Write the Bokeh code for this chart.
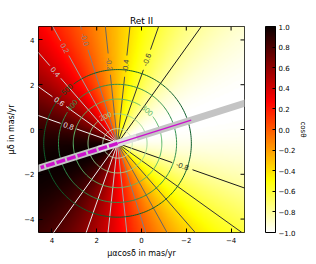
import numpy as np
from bokeh.plotting import figure
from bokeh.models import (Range1d, LinearColorMapper, ColorBar, FixedTicker,
                          ColumnDataSource, LinearAxis)
from bokeh.embed import file_html
from bokeh.resources import INLINE

# ---------------- data ----------------
TITLE = "Ret II"
X_LABEL = "μαcosδ in mas/yr"
Y_LABEL = "μδ in mas/yr"
CBAR_LABEL = "cosθ"

x_lim = [4.6, -4.6]
y_lim = [-4.6, 4.6]
axis_ticks = [-4, -2, 0, 2, 4]
cbar_ticks = [-1.0, -0.8, -0.6, -0.4, -0.2, 0.0, 0.2, 0.4, 0.6, 0.8, 1.0]

center_pm = [1.07, -0.62]      # mas/yr, point where all directions meet
axis_angle_deg = -17.5         # direction (data frame) where cos(theta) = 1
distance_kpc = 32.0            # converts speeds to proper-motion radii

speed_levels = [100, 200, 300, 400, 500]          # km/s
speed_colors = ["#c2e6bb", "#98d594", "#5db96b", "#2f8f4c", "#0f5e2b"]
speed_label_levels = [200, 300, 400, 500]
speed_label_angle_deg = [66, 132, 40, 47]
speed_label_colors = ["#98d594", "#5db96b", "#2f8f4c", "#0f4a22"]

cos_levels = [-0.8, -0.6, -0.4, -0.2, 0.0, 0.2, 0.4, 0.6, 0.8]
cos_colors = ["#1a1a1a", "#333333", "#4d4d4d", "#666666", "#808080",
              "#a0a0a0", "#c8c8c8", "#e6e6e6", "#f5f5f5"]
cos_label_text = ["-0.8", "-0.6", "-0.4", "-0.2", "-0.0", "0.2", "0.4", "0.6", "0.8"]
cos_label_side = [-1, 1, 1, 1, 1, 1, 1, 1, 1]
cos_label_dist = [3.07, 3.96, 3.47, 3.56, 4.86, 4.86, 4.23, 3.20, 2.32]

magenta_len = [3.6, 3.45]      # mas/yr, toward cos=1 side and cos=-1 side

# ---------------- layout ----------------
FL, FT, FW, FH = 38, 26, 206, 206
W, H = 316, 264
S = FW / (x_lim[0] - x_lim[1])

# colormap hot_r
def hot(t):
    r = np.clip(0.0416 + (1 - 0.0416) * t / 0.365079, 0, 1)
    g = np.clip((t - 0.365079) / (0.746032 - 0.365079), 0, 1)
    b = np.clip((t - 0.746032) / (1 - 0.746032), 0, 1)
    return "#%02x%02x%02x" % (int(round(r * 255)), int(round(g * 255)), int(round(b * 255)))

palette = [hot(1 - i / 255) for i in range(256)]
mapper = LinearColorMapper(palette=palette, low=-1, high=1)

p = figure(width=W, height=H, frame_width=FW, frame_height=FH,
           x_range=Range1d(*x_lim), y_range=Range1d(*y_lim),
           output_backend="svg", toolbar_location=None, title=TITLE,
           min_border_left=FL, min_border_top=FT, min_border_right=W - FL - FW,
           min_border_bottom=H - FT - FH)
p.title.align = "center"
p.title.text_font = "DejaVu Sans"
p.title.text_font_size = "9px"
p.title.text_font_style = "normal"
p.title.text_color = "black"
p.title.standoff = 2
p.grid.visible = False
p.outline_line_color = "black"
p.outline_line_width = 1
p.background_fill_color = "white"
p.border_fill_color = "white"

for ax in (p.xaxis[0], p.yaxis[0]):
    ax.ticker = FixedTicker(ticks=axis_ticks)
    ax.major_label_overrides = {t: str(t).replace("-", "−") for t in axis_ticks}
    ax.major_tick_in = 4
    ax.major_tick_out = 0
    ax.minor_tick_line_color = None
    ax.axis_line_color = None
    ax.major_label_text_font = "DejaVu Sans"
    ax.major_label_text_font_size = "7px"
    ax.major_label_text_color = "black"
    ax.major_label_standoff = 4
    ax.axis_label_text_font = "DejaVu Sans"
    ax.axis_label_text_font_size = "8px"
    ax.axis_label_text_font_style = "normal"
    ax.axis_label_text_color = "black"
p.yaxis[0].major_label_orientation = "horizontal"
p.xaxis[0].axis_label = X_LABEL
p.yaxis[0].axis_label = Y_LABEL
p.xaxis[0].axis_label_standoff = 3
p.yaxis[0].axis_label_standoff = 5

# heat map of cos(theta)
cx, cy = center_pm
th0 = np.deg2rad(axis_angle_deg)
gx = np.linspace(min(x_lim), max(x_lim), 300)
gy = np.linspace(min(y_lim), max(y_lim), 300)
GX, GY = np.meshgrid(gx, gy)
Z = np.cos(np.arctan2(GY - cy, GX - cx) - th0)
p.image(image=[Z], x=min(x_lim), y=min(y_lim), dw=max(x_lim) - min(x_lim),
        dh=max(y_lim) - min(y_lim), color_mapper=mapper)

def rot_readable(screen_deg):
    a = (screen_deg + 180) % 360 - 180
    if a > 90:
        a -= 180
    if a <= -90:
        a += 180
    return np.deg2rad(a)

# contour rays of cos(theta)
FAR = 12.0
rx, ry, rc = [], [], []
lab = dict(x=[], y=[], text=[], angle=[], color=[])
for c, col, txt, side, dist in zip(cos_levels, cos_colors, cos_label_text,
                                   cos_label_side, cos_label_dist):
    for sgn in (1, -1):
        ang = th0 + sgn * np.arccos(c)
        ux, uy = np.cos(ang), np.sin(ang)
        if sgn == side:
            gap = (len(txt) * 4.6 / 2 + 1.5) / S
            pieces = [(0, dist - gap), (dist + gap, FAR)]
            lab["x"].append(cx + dist * ux)
            lab["y"].append(cy + dist * uy)
            lab["text"].append(txt)
            lab["angle"].append(rot_readable(180 - np.rad2deg(ang)))
            lab["color"].append(col)
        else:
            pieces = [(0, FAR)]
        for a, b in pieces:
            rx.append([cx + a * ux, cx + b * ux])
            ry.append([cy + a * uy, cy + b * uy])
            rc.append(col)
p.multi_line(xs=rx, ys=ry, line_color=rc, line_width=1)

# speed circles
kfac = 4.74 * distance_kpc
cxs, cys, ccs = [], [], []
slab = dict(x=[], y=[], text=[], angle=[], color=[])
for v, col in zip(speed_levels, speed_colors):
    r = v / kfac
    if v in speed_label_levels:
        i = speed_label_levels.index(v)
        a0 = np.deg2rad(speed_label_angle_deg[i])
        half = (3 * 4.6 / 2 + 1.5) / S / r
        t = np.linspace(a0 + half, a0 - half + 2 * np.pi, 240)
        slab["x"].append(cx + r * np.cos(a0))
        slab["y"].append(cy + r * np.sin(a0))
        slab["text"].append(str(v))
        slab["angle"].append(rot_readable(180 - np.rad2deg(a0) + 90))
        slab["color"].append(speed_label_colors[i])
    else:
        t = np.linspace(0, 2 * np.pi, 240)
    cxs.append(list(cx + r * np.cos(t)))
    cys.append(list(cy + r * np.sin(t)))
    ccs.append(col)
p.multi_line(xs=cxs, ys=cys, line_color=ccs, line_width=1)

# grey band along the cos=+-1 direction
ux0, uy0 = np.cos(th0), np.sin(th0)
p.line([cx - FAR * ux0, cx + FAR * ux0], [cy - FAR * uy0, cy + FAR * uy0],
       line_color="#c4c4c4", line_width=7)
p.line([cx - 0.9 * ux0, cx + 0.9 * ux0], [cy - 0.9 * uy0, cy + 0.9 * uy0],
       line_color="white", line_width=7, line_alpha=0.45)

# magenta direction markers
p.line([cx, cx + magenta_len[0] * ux0], [cy, cy + magenta_len[0] * uy0],
       line_color="#cc11cc", line_width=3.5, line_dash="9 2")
p.line([cx, cx - magenta_len[1] * ux0], [cy, cy - magenta_len[1] * uy0],
       line_color="#cc11cc", line_width=1.5)

p.text(x="x", y="y", text="text", angle="angle", text_color="color",
       source=ColumnDataSource(lab), text_font_size="7.5px",
       text_align="center", text_baseline="middle")
p.text(x="x", y="y", text="text", angle="angle", text_color="color",
       source=ColumnDataSource(slab), text_font_size="7.5px",
       text_align="center", text_baseline="middle")

# top / right mirrored ticks
tl = 4 / S
p.segment(x0=axis_ticks, y0=[y_lim[1]] * 5, x1=axis_ticks, y1=[y_lim[1] - tl] * 5,
          line_color="black", line_width=1)
p.segment(x0=[x_lim[1]] * 5, y0=axis_ticks, x1=[x_lim[1] + tl] * 5, y1=axis_ticks,
          line_color="black", line_width=1)

# colour bar
cb = ColorBar(color_mapper=mapper, width=10, height=FH, padding=0, margin=0,
              location=(21, 0), ticker=FixedTicker(ticks=cbar_ticks),
              major_label_overrides={t: ("%.1f" % t).replace("-", "−") for t in cbar_ticks},
              major_label_text_font_size="7px", major_label_text_font="DejaVu Sans",
              major_label_text_color="black",
              major_tick_in=3, major_tick_out=0, major_tick_line_color="black",
              bar_line_color="black", label_standoff=3, border_line_color=None,
              background_fill_alpha=0)
p.add_layout(cb, "right")

cax = LinearAxis(ticker=FixedTicker(ticks=[]), axis_line_color=None,
                 major_tick_line_color=None, minor_tick_line_color=None,
                 major_label_text_font_size="0px", axis_label=CBAR_LABEL,
                 axis_label_text_font="DejaVu Sans", axis_label_text_font_size="7px",
                 axis_label_text_font_style="normal", axis_label_text_color="black",
                 axis_label_standoff=0)
p.add_layout(cax, "right")

open("out.html", "w").write(file_html(p, INLINE))
